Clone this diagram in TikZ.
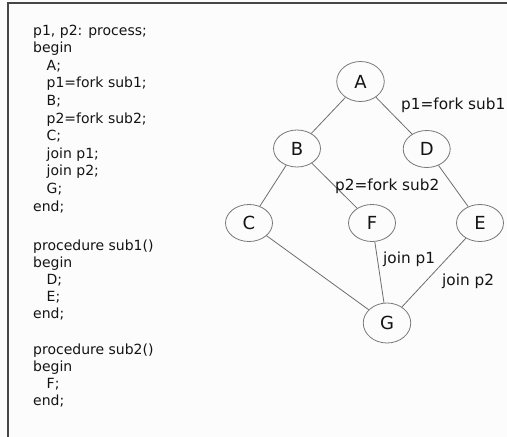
\documentclass[tikz,border=0pt]{standalone}
\usepackage{fontspec}
\setmainfont{DejaVu Sans}
\usetikzlibrary{shapes.geometric}
\definecolor{bgc}{RGB}{252,252,252}
\definecolor{framec}{RGB}{70,70,70}
\definecolor{edgec}{RGB}{110,110,110}
\definecolor{ringc}{RGB}{120,120,120}
\definecolor{textc}{RGB}{20,20,20}
\tikzset{
  vert/.style={ellipse, draw=ringc, line width=0.8pt, fill=bgc, inner sep=0pt,
    minimum width=47pt, minimum height=37pt, text=textc,
    font=\fontsize{18pt}{20pt}\selectfont},
  bigvert/.style={vert, minimum width=47.5pt, minimum height=40pt},
  edge/.style={draw=edgec, line width=0.8pt},
  codeline/.style={anchor=base west, inner sep=0pt, text=textc,
    font=\fontsize{14pt}{17pt}\selectfont},
  elabel/.style={anchor=base west, inner sep=0pt, text=textc,
    font=\fontsize{15.3pt}{18pt}\selectfont},
}
\begin{document}
\begin{tikzpicture}[x=1pt,y=-1pt]
\fill[bgc] (0,0) rectangle (507,437);
\useasboundingbox (0,0) rectangle (507,437);
\coordinate (tl) at (8,3);
\coordinate (tr) at (507,3);
\coordinate (bl) at (8,437);
\draw[framec, line width=1.4pt] (tr) -- (tl) -- (bl);

% code
\node[codeline] (c1) at (33,35) {p1, p2: process;};
\node[codeline] (c2) at (33,52.6) {begin};
\node[codeline] (c3) at (46.5,70.2) {A;};
\node[codeline] (c4) at (46.5,87.8) {p1=fork sub1;};
\node[codeline] (c5) at (46.5,105.4) {B;};
\node[codeline] (c6) at (46.5,123) {p2=fork sub2;};
\node[codeline] (c7) at (46.5,140.6) {C;};
\node[codeline] (c8) at (46.5,158.2) {join p1;};
\node[codeline] (c9) at (46.5,175.8) {join p2;};
\node[codeline] (c10) at (46.5,193.4) {G;};
\node[codeline] (c11) at (33,211) {end;};

\node[codeline] (d1) at (33,250) {procedure sub1()};
\node[codeline] (d2) at (33,267) {begin};
\node[codeline] (d3) at (46.5,284) {D;};
\node[codeline] (d4) at (46.5,301) {E;};
\node[codeline] (d5) at (33,318) {end;};

\node[codeline] (e1) at (33,354) {procedure sub2()};
\node[codeline] (e2) at (33,371) {begin};
\node[codeline] (e3) at (46.5,388) {F;};
\node[codeline] (e4) at (33,405) {end;};

% graph
\node[bigvert] (A) at (360.5,81.5) {A};
\node[vert] (B) at (297,148.5) {B};
\node[vert] (D) at (426.7,149) {D};
\node[vert] (C) at (249,223) {C};
\node[vert] (F) at (372,223) {F};
\node[vert] (E) at (480,223) {E};
\node[bigvert] (G) at (387,323) {G};

\draw[edge] (A) -- (B);
\draw[edge] (A) -- (D);
\draw[edge] (B) -- (C);
\draw[edge] (B) -- (F);
\draw[edge] (D) -- (E);
\draw[edge] (C) -- (G);
\draw[edge] (F) -- (G);
\draw[edge] (E) -- (G);

\node[elabel] (l1) at (401,109) {p1=fork sub1};
\node[elabel] (l2) at (335,190) {p2=fork sub2};
\node[elabel] (l3) at (383,263) {join p1};
\node[elabel] (l4) at (442,285) {join p2};
\end{tikzpicture}
\end{document}
